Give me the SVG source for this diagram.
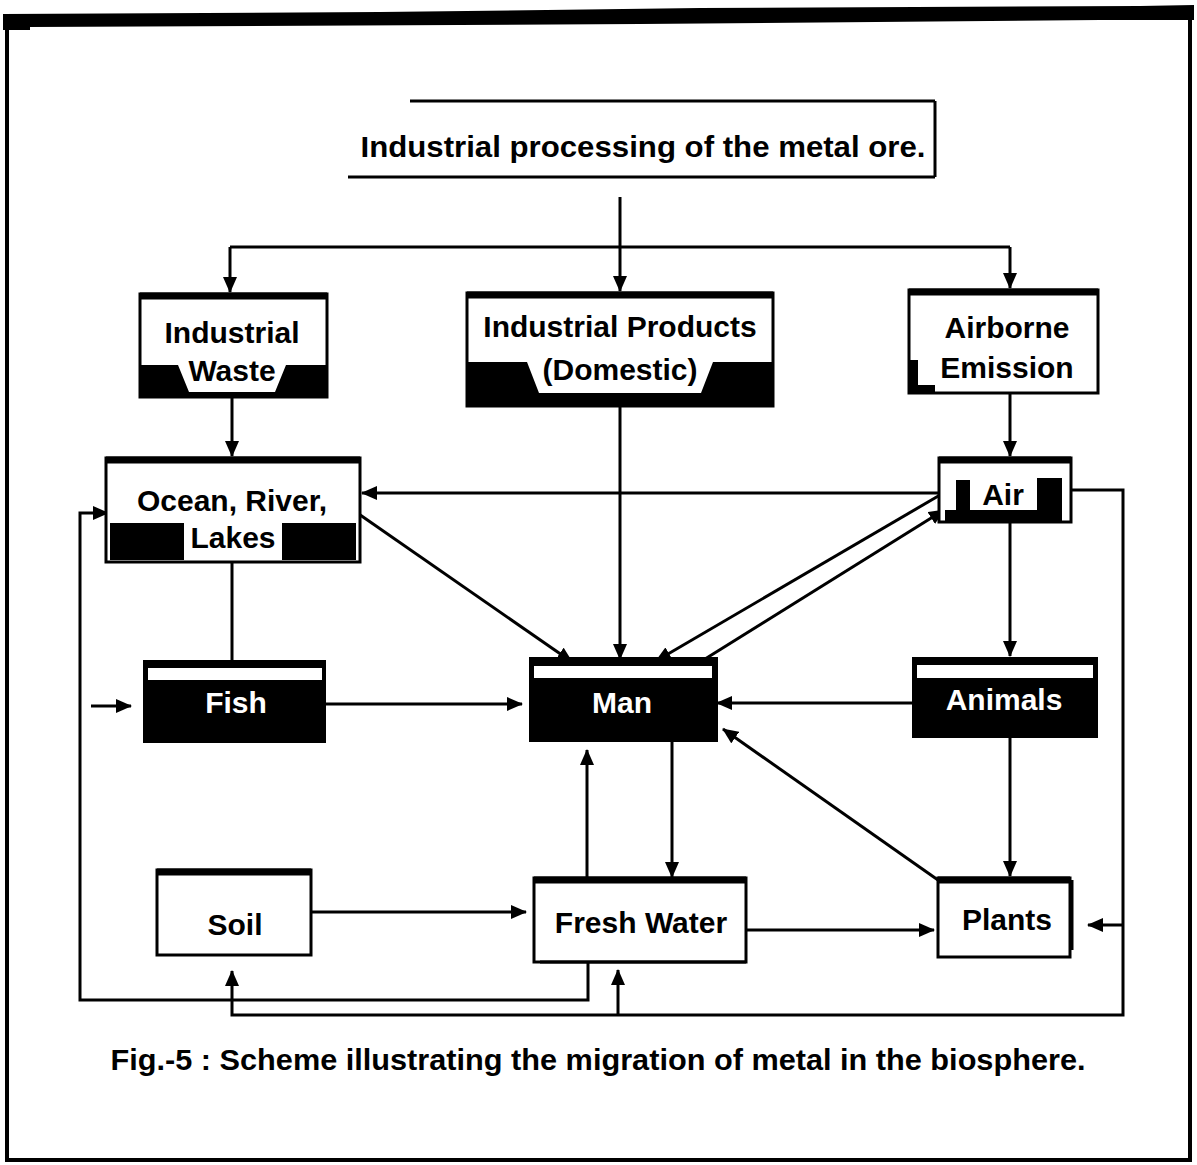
<svg xmlns="http://www.w3.org/2000/svg" width="1197" height="1165" viewBox="0 0 1197 1165">
  <style>
    .box { fill: #fff; stroke: #000; stroke-width: 3; }
    .blk { fill: #000; stroke: none; }
    .wht { fill: #fff; stroke: none; }
    .thick { stroke: #000; stroke-width: 7; fill: none; }
    .lbl { font-family: "Liberation Sans", Arial, sans-serif; font-weight: bold; font-size: 30px; text-anchor: middle; fill: #000; }
    .wl { fill: #fff; }
    .c { stroke: #000; stroke-width: 3; fill: none; }
    .frame { stroke: #000; fill: none; }
  </style>
  <defs>
    <marker id="ah" markerUnits="userSpaceOnUse" markerWidth="16" markerHeight="14" refX="15" refY="7" orient="auto">
      <path d="M0,0 L16,7 L0,14 z" fill="#000"/>
    </marker>
  </defs>

  <rect x="0" y="0" width="1197" height="1165" fill="#fff"/>

  <!-- outer frame -->
  <g id="frame">
    <path class="frame" stroke-width="4" d="M7,22 V1160 H1190 V12"/>
    <path fill="#000" d="M3,14 L380,12 L700,8 L1140,6 L1194,5 L1194,20 L1100,20 L640,24 L30,27 L30,30 L3,30 z"/>
  </g>

  <!-- connectors -->
  <g id="connectors">
    <line class="c" x1="620" y1="197" x2="620" y2="291" marker-end="url(#ah)"/>
    <line class="c" x1="230" y1="247" x2="1010" y2="247"/>
    <line class="c" x1="230" y1="247" x2="230" y2="292" marker-end="url(#ah)"/>
    <line class="c" x1="1010" y1="247" x2="1010" y2="288" marker-end="url(#ah)"/>
    <line class="c" x1="232" y1="398" x2="232" y2="456" marker-end="url(#ah)"/>
    <line class="c" x1="620" y1="407" x2="620" y2="659" marker-end="url(#ah)"/>
    <line class="c" x1="1010" y1="393" x2="1010" y2="456" marker-end="url(#ah)"/>
    <line class="c" x1="938" y1="493" x2="362" y2="493" marker-end="url(#ah)"/>
    <line class="c" x1="353" y1="510" x2="572" y2="662" marker-end="url(#ah)"/>
    <line class="c" x1="940" y1="495" x2="656" y2="661" marker-end="url(#ah)"/>
    <line class="c" x1="697" y1="664" x2="944" y2="510" marker-end="url(#ah)"/>
    <line class="c" x1="232" y1="562" x2="232" y2="660"/>
    <line class="c" x1="91" y1="706" x2="131" y2="706" marker-end="url(#ah)"/>
    <line class="c" x1="326" y1="704" x2="522" y2="704" marker-end="url(#ah)"/>
    <line class="c" x1="912" y1="703" x2="717" y2="703" marker-end="url(#ah)"/>
    <line class="c" x1="1010" y1="522" x2="1010" y2="656" marker-end="url(#ah)"/>
    <line class="c" x1="1010" y1="738" x2="1010" y2="876" marker-end="url(#ah)"/>
    <line class="c" x1="938" y1="880" x2="723" y2="729" marker-end="url(#ah)"/>
    <line class="c" x1="587" y1="877" x2="587" y2="750" marker-end="url(#ah)"/>
    <line class="c" x1="672" y1="742" x2="672" y2="877" marker-end="url(#ah)"/>
    <line class="c" x1="312" y1="912" x2="526" y2="912" marker-end="url(#ah)"/>
    <line class="c" x1="747" y1="930" x2="934" y2="930" marker-end="url(#ah)"/>
    <polyline class="c" points="1062,490 1123,490 1123,1015 232,1015 232,971" marker-end="url(#ah)"/>
    <line class="c" x1="618" y1="1015" x2="618" y2="970" marker-end="url(#ah)"/>
    <line class="c" x1="1123" y1="925" x2="1088" y2="925" marker-end="url(#ah)"/>
    <polyline class="c" points="588,962 588,1000 80,1000 80,513 108,513" marker-end="url(#ah)"/>
  </g>

  <!-- nodes -->
  <g id="node-ore">
    <path class="c" stroke-width="2" d="M410,101 H935"/>
    <path class="c" stroke-width="3" d="M935,101 V177"/>
    <path class="c" stroke-width="4" d="M348,177 H935"/>
    <text class="lbl" x="643" y="157" textLength="565" lengthAdjust="spacingAndGlyphs">Industrial processing of the metal ore.</text>
  </g>

  <g id="node-industrial-waste">
    <rect class="box" x="140" y="294" width="187" height="103"/>
    <line class="thick" x1="140" y1="296" x2="327" y2="296"/>
    <path class="blk" d="M140,365 H178 L189,392 H275 L286,365 H327 V398 H140 z"/>
    <text class="lbl" x="232" y="381">Waste</text>
    <text class="lbl" x="232" y="343">Industrial</text>
  </g>

  <g id="node-industrial-products">
    <rect class="box" x="467" y="293" width="306" height="113"/>
    <line class="thick" x1="467" y1="295" x2="773" y2="295"/>
    <path class="blk" d="M467,362 H527 L539,393 H701 L713,362 H773 V407 H467 z"/>
    <text class="lbl" x="620" y="337">Industrial Products</text>
    <text class="lbl" x="620" y="380">(Domestic)</text>
  </g>

  <g id="node-airborne">
    <rect class="box" x="909" y="290" width="189" height="103"/>
    <line class="thick" x1="909" y1="292" x2="1098" y2="292"/>
    <path class="blk" d="M909,360 H918 V385 H935 V393 H909 z"/>
    <text class="lbl" x="1007" y="338">Airborne</text>
    <text class="lbl" x="1007" y="378">Emission</text>
  </g>

  <g id="node-ocean">
    <rect class="box" x="106" y="458" width="254" height="104"/>
    <line class="thick" x1="106" y1="460" x2="360" y2="460"/>
    <path class="blk" d="M110,523 H184 V560 H110 z M282,523 H356 V560 H282 z"/>
    <text class="lbl" x="232" y="511">Ocean, River,</text>
    <text class="lbl" x="233" y="548">Lakes</text>
  </g>

  <g id="node-air">
    <rect class="box" x="939" y="458" width="132" height="64"/>
    <line class="thick" x1="939" y1="460" x2="1071" y2="460"/>
    <path class="blk" d="M956,480 H970 V510 H1037 V478 H1062 V522 H945 V510 H956 z"/>
    <text class="lbl" x="1003" y="505">Air</text>
  </g>

  <g id="node-fish">
    <rect class="blk" x="143" y="660" width="183" height="83"/>
    <rect class="wht" x="148" y="668" width="174" height="12"/>
    <text class="lbl wl" x="236" y="713">Fish</text>
  </g>

  <g id="node-man">
    <rect class="blk" x="529" y="657" width="189" height="85"/>
    <rect class="wht" x="534" y="666" width="178" height="12"/>
    <text class="lbl wl" x="622" y="713">Man</text>
  </g>

  <g id="node-animals">
    <rect class="blk" x="912" y="657" width="186" height="81"/>
    <rect class="wht" x="917" y="665" width="176" height="13"/>
    <text class="lbl wl" x="1004" y="710">Animals</text>
  </g>

  <g id="node-soil">
    <rect class="box" x="157" y="870" width="154" height="85"/>
    <line class="thick" x1="157" y1="872" x2="311" y2="872"/>
    <text class="lbl" x="235" y="935">Soil</text>
  </g>

  <g id="node-fresh-water">
    <rect class="box" x="534" y="878" width="212" height="84"/>
    <line class="thick" x1="534" y1="880" x2="746" y2="880"/>
    <line class="c" stroke-width="5" x1="540" y1="962" x2="746" y2="962"/>
    <text class="lbl" x="641" y="933">Fresh Water</text>
  </g>

  <g id="node-plants">
    <rect class="box" x="938" y="878" width="132" height="79"/>
    <line class="thick" x1="938" y1="880" x2="1070" y2="880"/>
    <line class="c" stroke-width="6" x1="1072" y1="880" x2="1072" y2="950"/>
    <text class="lbl" x="1007" y="930">Plants</text>
  </g>

  <g id="caption">
    <text class="lbl" x="598" y="1070" font-size="26" textLength="975" lengthAdjust="spacingAndGlyphs">Fig.-5 : Scheme illustrating the migration of metal in the biosphere.</text>
  </g>
</svg>
